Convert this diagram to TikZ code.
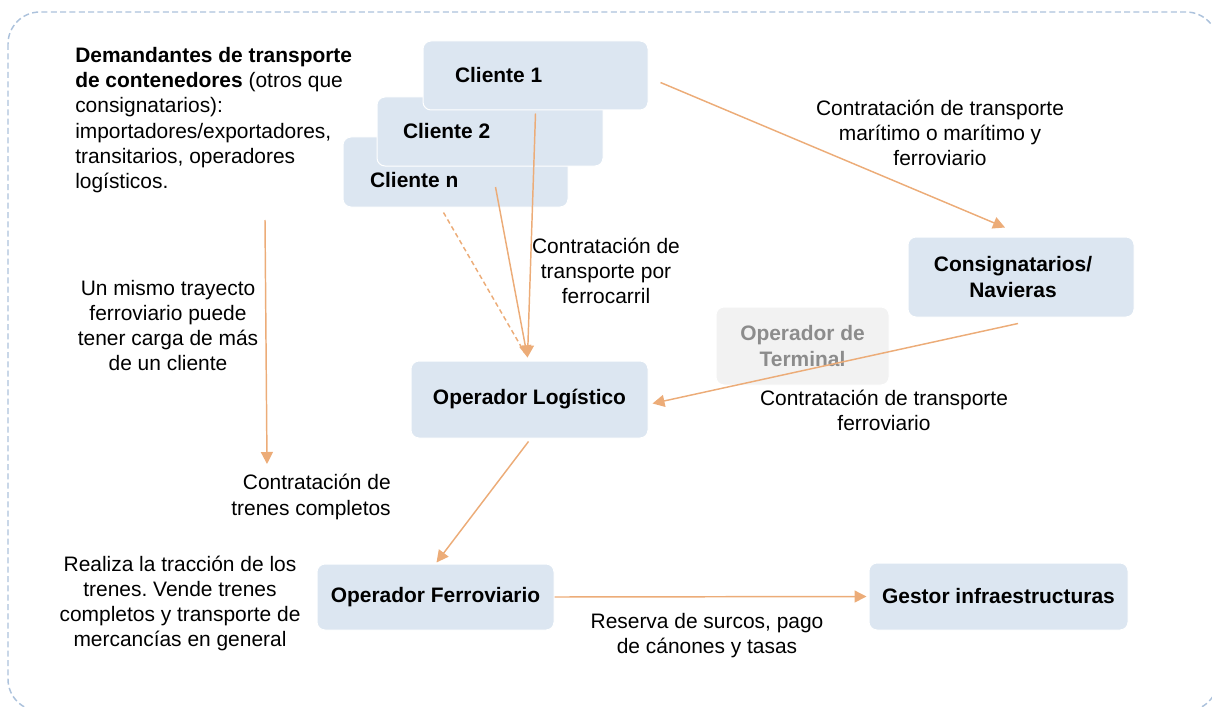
\documentclass[tikz,border=0pt]{standalone}
\usepackage{fontspec}
\setmainfont{Liberation Sans}
\usetikzlibrary{arrows.meta,calc}
\definecolor{boxfill}{RGB}{220,230,241}
\definecolor{arrowc}{RGB}{236,172,120}
\definecolor{framec}{RGB}{172,194,220}
\definecolor{termfill}{RGB}{242,242,242}
\definecolor{termtext}{RGB}{140,140,140}
\frenchspacing
\begin{document}
\begin{tikzpicture}[x=0.75pt,y=-0.75pt,
  txt/.style={font=\frenchspacing\fontsize{15.7}{18.9}\selectfont, inner sep=0pt},
  box/.style={draw=white, line width=0.75pt, fill=boxfill, rounded corners=6pt, inner sep=0pt,
    font=\fontsize{15.7}{18.9}\selectfont\bfseries, align=center},
  clientbox/.style={box, align=flush left, minimum height=51.75pt},
  conn/.style={draw=arrowc, line width=1.1pt, -{Triangle[length=9pt,width=9pt]}},
  lbl/.style={txt, align=center}]
\path[use as bounding box] (0,0) rectangle (1212,706);
\clip (0,0) rectangle (1212,706);
\draw[framec, dash pattern=on 4.5pt off 2.5pt, line width=1.1pt, rounded corners=24pt] (8,12) rectangle (1218,711);

% client boxes
\node[clientbox, inner xsep=20.25pt, text width=128.25pt, minimum height=52.5pt, text height=24pt, text depth=1pt] (cn) at (455.5,172) {Cliente n};
\node[clientbox, inner xsep=19.5pt, text width=130.5pt] (c2) at (490,131.5) {Cliente 2};
\node[clientbox, inner xsep=24pt, text width=120.75pt] (c1) at (535.5,75.5) {Cliente 1};

% other boxes
\node[box, minimum width=177.75pt, minimum height=57.75pt] (ol) at (529.5,399.5) {Operador Logístico};
\node[box, minimum width=169.5pt, minimum height=60pt, inner xsep=0pt] (cons) at (1021,277) {Consignatarios/\hspace*{12pt}\\Navieras\hspace*{12pt}};
\node[box, fill=termfill, text=termtext, minimum width=129.75pt, minimum height=58.5pt] (term) at (802.5,346) {Operador de\\Terminal};
\node[box, minimum width=177.75pt, minimum height=49.5pt] (of) at (435.5,597) {Operador Ferroviario};
\node[box, minimum width=194.25pt, minimum height=50.25pt] (gi) at (998.5,596.5) {Gestor infraestructuras};

% text blocks
\node[txt, align=left, anchor=north west] (dem) at (75,47) {\textbf{Demandantes de transporte}\\\textbf{de contenedores} (otros que\\consignatarios):\\importadores/exportadores,\\transitarios, operadores\\logísticos.};
\node[lbl] (lmar) at (940,133) {Contratación de transporte\\marítimo o marítimo y\\ferroviario};
\node[lbl] (lfc) at (606,271) {Contratación de\\transporte por\\ferrocarril};
\node[lbl] (lcf) at (884,410.5) {Contratación de transporte\\ferroviario};
\node[txt, align=right, anchor=east] (ltc) at (391,497) {Contratación de\\trenes completos};
\node[lbl] (lmismo) at (168,325.5) {Un mismo trayecto\\ferroviario puede\\tener carga de más\\de un cliente};
\node[lbl] (lreal) at (180,603.5) {Realiza la tracción de los\\trenes. Vende trenes\\completos y transporte de\\mercancías en general};
\node[lbl] (lres) at (707,635.5) {Reserva de surcos, pago\\de cánones y tasas};

% connectors
\coordinate (vtop) at (265,220);
\coordinate (vbot) at (267,464);
\draw[conn] (vtop) -- (vbot);
\draw[conn] ($(c1.east)+(12,7)$) -- ($(cons.north)+(-16,-9)$);
\draw[conn] ($(c1.south)+(0,3)$) -- ($(ol.north)+(-2,-3)$);
\draw[conn] ($(cn.center)+(40,15)$) -- ($(ol.north)+(-2,-3)$);
\draw[draw=arrowc, line width=1.1pt, dash pattern=on 3.5pt off 2.5pt] ($(cn.south)+(-12,5)$) -- ($(ol.north)+(-5,-8)$);
\draw[conn] ($(cons.south)+(-3,6)$) -- ($(ol.east)+(4,4)$);
\draw[conn] ($(ol.south)+(-1,3)$) -- ($(of.north)+(1,-1)$);
\draw[conn] (of.east) -- ($(gi.west)+(-2,0)$);
\end{tikzpicture}
\end{document}
